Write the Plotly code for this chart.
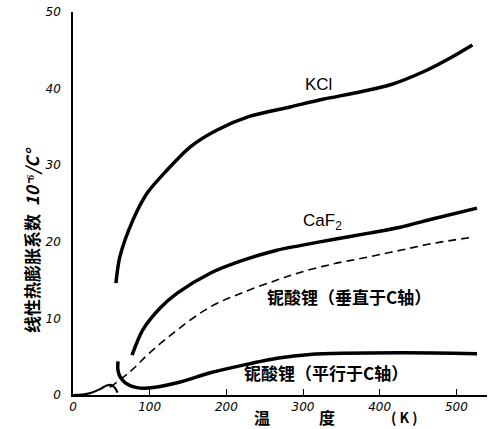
import plotly.graph_objects as go

# KCl
kcl_T = [56, 61, 78, 97, 123, 153, 188, 231, 283, 326, 371, 414, 457, 492, 521]
kcl_a = [14.6, 18.0, 22.8, 26.4, 29.4, 32.4, 34.6, 36.4, 37.6, 38.6, 39.5, 40.5, 42.2, 44.0, 45.7]

# CaF2
caf2_T = [77, 91, 114, 136, 179, 222, 266, 296, 339, 384, 427, 470, 527]
caf2_a = [5.2, 8.5, 11.4, 13.3, 15.9, 17.6, 18.9, 19.5, 20.3, 21.1, 21.9, 23.0, 24.4]

# LiNbO3 perpendicular to C axis (dashed)
perp_T = [48, 74, 100, 136, 179, 222, 266, 296, 339, 384, 427, 470, 522]
perp_a = [1.0, 3.0, 5.5, 8.5, 11.5, 13.4, 15.0, 16.0, 17.1, 18.0, 18.9, 19.8, 20.6]

# LiNbO3 parallel to C axis
par_T = [58.7, 58.4, 60, 64, 71, 82, 98, 136, 179, 222, 266, 309, 427, 527]
par_a = [4.4, 3.5, 2.7, 2.0, 1.4, 1.0, 0.9, 1.6, 2.9, 3.9, 4.8, 5.3, 5.5, 5.4]

# low temperature bump
low_T = [0, 12, 24, 36, 44, 50, 55, 58]
low_a = [0.0, 0.05, 0.3, 0.8, 1.25, 1.3, 0.9, 0.3]

x_ticks = [0, 100, 200, 300, 400, 500]
y_ticks = [0, 10, 20, 30, 40, 50]

fig = go.Figure()
thick = dict(color="black", width=3.5, shape="spline", smoothing=0.8)
fig.add_trace(go.Scatter(x=kcl_T, y=kcl_a, mode="lines", line=thick, name="KCl"))
fig.add_trace(go.Scatter(x=caf2_T, y=caf2_a, mode="lines", line=thick, name="CaF2"))
fig.add_trace(go.Scatter(x=perp_T, y=perp_a, mode="lines",
                         line=dict(color="black", width=1.6, dash="8px,5px", shape="spline"),
                         name="perp"))
fig.add_trace(go.Scatter(x=par_T, y=par_a, mode="lines", line=thick, name="par"))
fig.add_trace(go.Scatter(x=low_T, y=low_a, mode="lines",
                         line=dict(color="black", width=2.2, shape="spline"), name="low"))

cjk = "Noto Sans CJK SC"
tickfont = dict(family="DejaVu Sans", size=12, color="black", style="italic")

def paper_note(x, y, text, size, angle=0):
    return dict(x=x, y=y, xref="paper", yref="paper", text=text, showarrow=False,
                xanchor="center", yanchor="middle", textangle=angle,
                font=dict(family=cjk, size=size, color="black", weight="bold"))

annotations = [
    dict(x=320, y=40.5, xref="x", yref="y", text="KCl", showarrow=False,
         font=dict(family="Liberation Sans", size=17, color="black")),
    dict(x=325, y=22.6, xref="x", yref="y", text="CaF<sub>2</sub>", showarrow=False,
         font=dict(family="Liberation Sans", size=17, color="black")),
    dict(x=360, y=12.9, xref="x", yref="y", text="铌酸锂（垂直于C轴）", showarrow=False,
         font=dict(family=cjk, size=17, color="black", weight="bold")),
    dict(x=330, y=3.0, xref="x", yref="y", text="铌酸锂（平行于C轴）", showarrow=False,
         font=dict(family=cjk, size=17, color="black", weight="bold")),
    paper_note(-0.099, 0.405, "线性热膨胀系数  <i>10⁻⁶/C°</i>", 17, -90),
    paper_note(0.457, -0.057, "温", 16),
    paper_note(0.614, -0.057, "度", 16),
    paper_note(0.80, -0.057, "( K )", 14),
]

fig.update_layout(
    width=495, height=429,
    margin=dict(l=73, r=8, t=12, b=34, autoexpand=False),
    paper_bgcolor="white", plot_bgcolor="white",
    showlegend=False,
    annotations=annotations,
    xaxis=dict(range=[0, 540], showline=True, linecolor="black", linewidth=1.5,
               showgrid=False, zeroline=False, tickvals=x_ticks, automargin=False,
               ticktext=[str(v) for v in x_ticks], ticks="inside", ticklen=6,
               tickcolor="black", tickwidth=1, tickfont=tickfont),
    yaxis=dict(range=[0, 50], showline=True, linecolor="black", linewidth=1.5,
               showgrid=False, zeroline=False, tickvals=y_ticks, automargin=False,
               ticktext=[str(v) for v in y_ticks], ticks="", tickfont=tickfont,
               ticklabelstandoff=8),
)

fig.write_html("out.html", config={"displayModeBar": False},
               post_script="document.body.style.margin='0px';")
